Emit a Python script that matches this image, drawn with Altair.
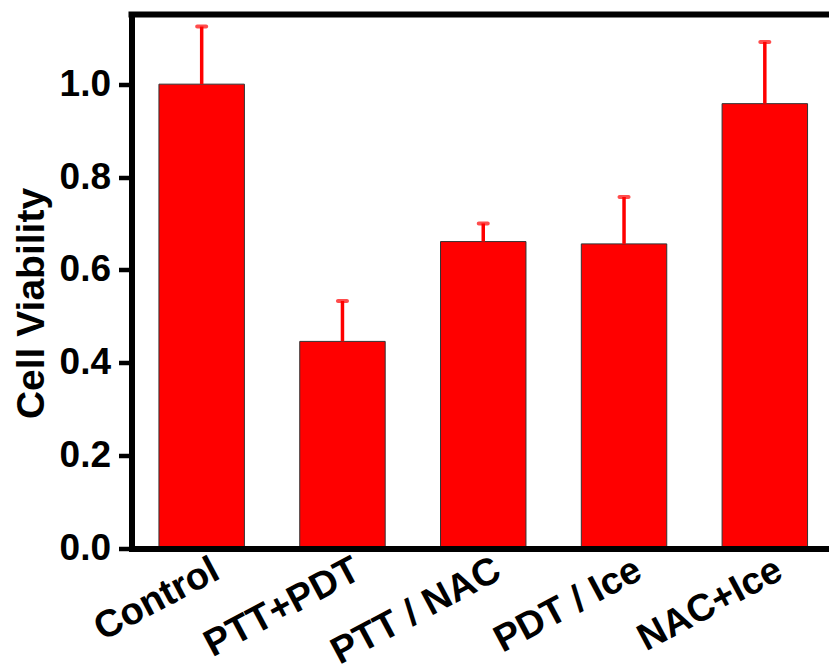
import altair as alt
import pandas as pd

categories = ["Control", "PTT+PDT", "PTT / NAC", "PDT / Ice", "NAC+Ice"]
viability = [1.0, 0.446, 0.661, 0.656, 0.958]
errors = [0.124, 0.087, 0.039, 0.101, 0.133]
y_ticks = [0.0, 0.2, 0.4, 0.6, 0.8, 1.0]

df = pd.DataFrame({"group": categories, "value": viability, "err": errors})
df["upper"] = df["value"] + df["err"]

FONT = "Liberation Sans"

x_enc = alt.X(
    "group:N",
    sort=categories,
    scale=alt.Scale(paddingInner=0.393, paddingOuter=0.195, range=[0, 703.5]),
    axis=alt.Axis(
        title=None,
        labelAngle=-28,
        labelAlign="right",
        labelBaseline="middle",
        labelFont=FONT,
        labelFontSize=38,
        labelFontWeight="bold",
        labelColor="black",
        labelLimit=0,
        ticks=False,
        labelPadding=19,
        labelOffset=15,
        domainWidth=6,
        domainColor="black",
        domainCap="square",
        grid=False,
        zindex=1,
    ),
)

y_enc = alt.Y(
    "value:Q",
    scale=alt.Scale(domain=[0, 1.15], nice=False, zero=True),
    axis=alt.Axis(
        title="Cell Viability",
        values=y_ticks,
        format=".1f",
        labelFont=FONT,
        labelFontSize=37,
        labelFontWeight="bold",
        labelColor="black",
        labelPadding=8,
        tickSize=13,
        tickWidth=4.5,
        tickColor="black",
        domainWidth=6,
        domainColor="black",
        grid=False,
        titleFont=FONT,
        titleFontSize=39,
        titleFontWeight="bold",
        titleColor="black",
        titleX=-88,
        titleY=288.5,
        titleAlign="center",
        titleBaseline="alphabetic",
        zindex=1,
    ),
)

base = alt.Chart(df)

bars = base.mark_bar(color="#ff0000", stroke="#333333", strokeWidth=1).encode(
    x=x_enc, y=y_enc
)

err_rule = base.mark_rule(color="#ff0000", strokeWidth=3.5).encode(
    x=alt.X("group:N", sort=categories),
    y=alt.Y("value:Q"),
    y2=alt.Y2("upper:Q"),
)

err_cap = base.mark_tick(color="#ff0000", size=13, thickness=4, cornerRadius=2).encode(
    x=alt.X("group:N", sort=categories),
    y=alt.Y("upper:Q"),
)

top_border = alt.Chart(pd.DataFrame({"k": [0]})).mark_rule(
    color="black", strokeWidth=6, strokeCap="square"
).encode(y=alt.value(0), x=alt.value(0), x2=alt.value("width"))

chart = (
    alt.layer(bars, err_rule, err_cap, top_border)
    .properties(
        width=697.5,
        height=534,
        padding={"left": 123.5, "top": 6.5, "right": 0, "bottom": 123},
        autosize=alt.AutoSizeParams(type="none"),
        background="white",
    )
    .configure_view(stroke=None)
)

chart.save("out.html", embed_options={"renderer": "svg", "actions": False})
